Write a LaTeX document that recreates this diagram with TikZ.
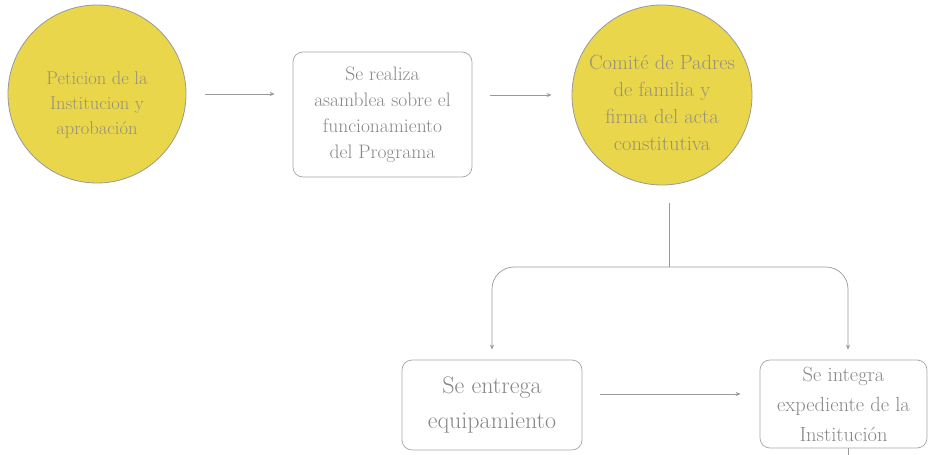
\documentclass[tikz,border=0pt]{standalone}
\usepackage{xcolor}
\usepackage{tikz}
\usetikzlibrary{arrows.meta,positioning}

\definecolor{yelfill}{RGB}{234,214,74}
\definecolor{txtgray}{RGB}{135,135,135}
\definecolor{circtxt}{RGB}{150,145,120}

\begin{document}
\begin{tikzpicture}[x=1pt,y=-1pt,
  circ/.style={circle,draw=gray!80,line width=0.8pt,fill=yelfill,minimum size=#1,inner sep=0pt},
  ctext/.style={align=center,text=circtxt},
  stepbox/.style={draw=gray!70,line width=0.7pt,rounded corners=10pt,align=center,text=txtgray,inner sep=0pt},
  link/.style={draw=gray!80,line width=0.7pt,-{Stealth[length=5pt,width=4pt]}}]
\useasboundingbox (0,0) rectangle (932,455);
% top row
\node[circ=178pt] (peticion) at (97,94) {};
\node[ctext,font=\fontsize{18.5}{25}\selectfont] (peticionlbl) at (97,105) {Peticion de la\\Institucion y\\aprobación};
\node[stepbox,minimum width=179pt,minimum height=125pt,font=\fontsize{19.5}{26}\selectfont] (asamblea) at (382.5,114.5) {Se realiza\\asamblea sobre el\\funcionamiento\\del Programa};
\node[circ=180pt] (comite) at (662,95) {};
\node[ctext,font=\fontsize{20.5}{27}\selectfont] (comitelbl) at (662,103) {Comité de Padres\\de familia y\\firma del acta\\constitutiva};
% bottom row
\node[stepbox,minimum width=180pt,minimum height=90pt,font=\fontsize{24}{35}\selectfont] (entrega) at (492,405) {Se entrega\\equipamiento};
\node[stepbox,minimum width=167pt,minimum height=88pt,font=\fontsize{20.5}{30}\selectfont] (integra) at (843.5,404) {Se integra\\expediente de la\\Institución};
\coordinate (split) at (669,267);
\coordinate (tail) at (848,455);
% connectors
\draw[link,shorten <=19pt,shorten >=18pt] (peticion.east) -- (peticion.east -| asamblea.west);
\draw[link,shorten <=18pt,shorten >=20pt] (comite.west -| asamblea.east) -- (comite.west);
\draw[draw=gray!80,line width=0.7pt] (split |- 0,203) -- (split);
\draw[link,rounded corners=22pt,shorten >=10pt] (split) -| (entrega.north);
\draw[link,rounded corners=22pt,shorten >=10pt] (split) -| (integra.north -| tail);
\draw[link,shorten <=18pt,shorten >=19pt] ([yshift=11pt]entrega.east) -- ([yshift=11pt]entrega.east -| integra.west);
\draw[draw=gray!80,line width=0.7pt] (integra.south -| tail) -- (tail);
\end{tikzpicture}
\end{document}
